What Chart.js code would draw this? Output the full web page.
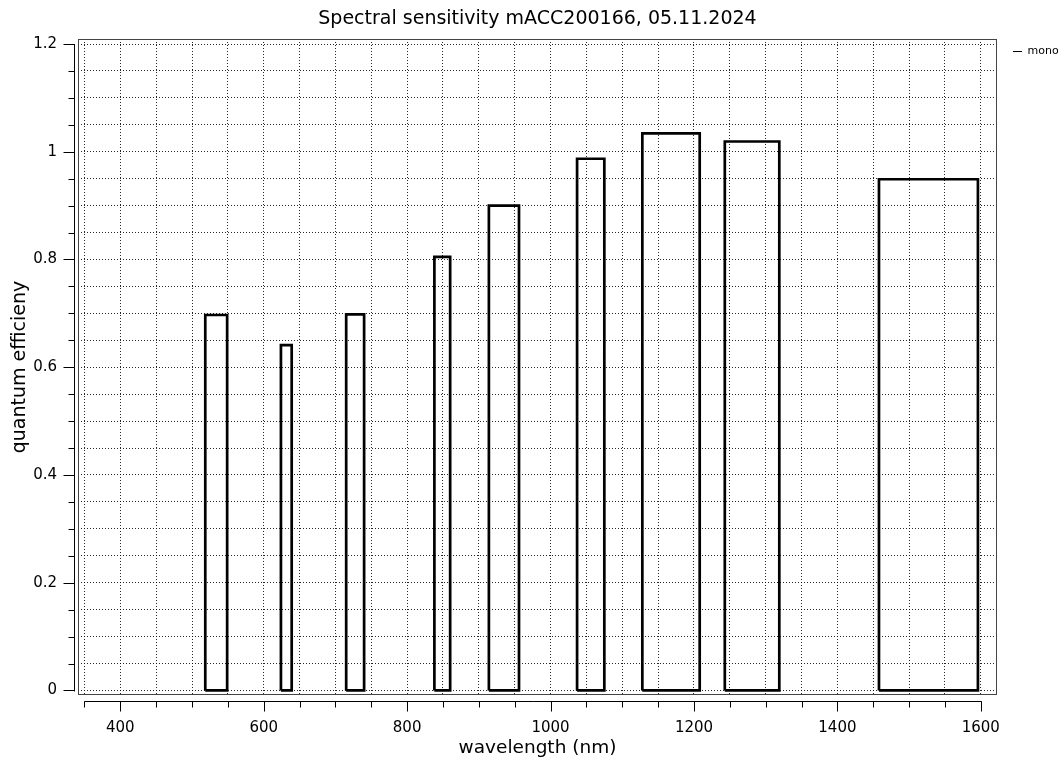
<!DOCTYPE html>
<html>
<head>
<meta charset="utf-8">
<script src="https://cdn.jsdelivr.net/npm/chart.js@4/dist/chart.umd.min.js"></script>
<style>
html,body{margin:0;padding:0;background:#fff;}
#wrap{width:1063px;height:762px;}
</style>
</head>
<body>
<div id="wrap"><canvas id="c" width="1063" height="762"></canvas></div>
<script>
// ---- data ----
const seriesName = 'mono';
const bandStart = [518.5, 624, 715, 838, 914, 1037, 1128, 1243, 1458];
const bandEnd = [549, 639, 740, 860, 956, 1075, 1208, 1319, 1596];
const efficiency = [0.697, 0.641, 0.698, 0.805, 0.900, 0.987, 1.034, 1.019, 0.949];
const xTickLabels = [400, 600, 800, 1000, 1200, 1400, 1600];
const yTickLabels = [0, 0.2, 0.4, 0.6, 0.8, 1, 1.2];
const xMinorStep = 50, xAxisFrom = 350, xAxisTo = 1600;
const yMinorStep = 0.05, yAxisFrom = 0, yAxisTo = 1.2;

const FONT = "'DejaVu Sans', Verdana, sans-serif";

// rectangle outlines built from the band arrays
const points = [];
bandStart.forEach((s, i) => {
  const e = bandEnd[i], h = efficiency[i];
  points.push({x: s, y: 0}, {x: s, y: h}, {x: e, y: h}, {x: e, y: 0}, {x: s, y: 0});
  if (i < bandStart.length - 1) points.push({x: (e + bandStart[i + 1]) / 2, y: null});
});

function stepValues(from, to, step) {
  const out = [];
  const n = Math.round((to - from) / step);
  for (let i = 0; i <= n; i++) out.push(+(from + i * step).toFixed(6));
  return out;
}
const xGrid = stepValues(xAxisFrom, xAxisTo, xMinorStep);
const yGrid = stepValues(yAxisFrom, yAxisTo, yMinorStep);
const isLabel = (arr, v) => arr.some(t => Math.abs(t - v) < 1e-6);

// frame + detached axis lines with ticks (Qwt style)
const framePlugin = {
  id: 'frameAxes',
  beforeLayout(chart) {
    const lg = chart.legend;
    if (lg && !lg._fixedWidth) {
      const f = lg.fit;
      lg.fit = function () { f.call(this); this.width = 57; };
      lg._fixedWidth = true;
    }
  },
  afterDraw(chart) {
    const {ctx, chartArea: a} = chart;
    const xs = chart.scales.x, ys = chart.scales.y;
    ctx.save();
    // frame
    ctx.strokeStyle = '#444';
    ctx.lineWidth = 1;
    ctx.strokeRect(a.left + 0.5, a.top + 0.5, a.right - a.left - 1, a.bottom - a.top - 1);
    ctx.strokeStyle = '#000';
    // x axis
    const yAx = a.bottom + 6.5;
    ctx.beginPath();
    ctx.moveTo(xs.getPixelForValue(xAxisFrom), yAx);
    ctx.lineTo(xs.getPixelForValue(xAxisTo) + 1, yAx);
    xGrid.forEach(v => {
      const p = Math.round(xs.getPixelForValue(v)) + 0.5;
      const len = isLabel(xTickLabels, v) ? 10 : 6;
      ctx.moveTo(p, yAx); ctx.lineTo(p, yAx + len);
    });
    ctx.stroke();
    // y axis
    const xAx = a.left - 3.5;
    ctx.beginPath();
    ctx.moveTo(xAx, ys.getPixelForValue(yAxisTo));
    ctx.lineTo(xAx, ys.getPixelForValue(yAxisFrom) + 1);
    yGrid.forEach(v => {
      const p = Math.round(ys.getPixelForValue(v)) + 0.5;
      const len = isLabel(yTickLabels, v) ? 11 : 6;
      ctx.moveTo(xAx, p); ctx.lineTo(xAx - len, p);
    });
    ctx.stroke();
    ctx.restore();
  }
};

new Chart(document.getElementById('c'), {
  type: 'line',
  data: {
    datasets: [{
      label: seriesName,
      data: points,
      borderColor: '#000',
      backgroundColor: '#000',
      borderWidth: 2.7,
      pointRadius: 0,
      pointHoverRadius: 0,
      spanGaps: false,
      tension: 0,
      borderJoinStyle: 'miter',
      fill: false
    }]
  },
  options: {
    responsive: false,
    animation: false,
    events: [],
    layout: {padding: 0},
    scales: {
      x: {
        type: 'linear',
        min: 341,
        max: 1622.6,
        afterBuildTicks(s) { s.ticks = xGrid.map(v => ({value: v})); },
        afterFit(s) { s.height = 67; },
        grid: {drawTicks: false, color: 'rgba(0,0,0,0.85)', lineWidth: 1},
        border: {display: false, dash: [1, 2]},
        ticks: {
          autoSkip: false, maxRotation: 0, padding: 24,
          color: '#000', font: {family: FONT, size: 15},
          callback: v => isLabel(xTickLabels, v) ? String(v) : ''
        },
        title: {display: true, text: 'wavelength (nm)', color: '#000',
          font: {family: FONT, size: 18.5}, padding: {top: 0, bottom: 3}}
      },
      y: {
        type: 'linear',
        min: -0.0084,
        max: 1.2093,
        afterBuildTicks(s) { s.ticks = yGrid.map(v => ({value: v})); },
        afterFit(s) { s.width = 78; },
        grid: {drawTicks: false, color: 'rgba(0,0,0,0.85)', lineWidth: 1},
        border: {display: false, dash: [1, 2]},
        ticks: {
          autoSkip: false, padding: 21,
          color: '#000', font: {family: FONT, size: 15},
          callback: v => isLabel(yTickLabels, v) ? String(+v.toFixed(2)) : ''
        },
        title: {display: true, text: 'quantum efficieny', color: '#000',
          font: {family: FONT, size: 19}, padding: {top: 9, bottom: 0}}
      },
      gap: {
        type: 'linear', position: 'right', display: true,
        afterFit(s) { s.width = 9; },
        grid: {display: false, drawOnChartArea: false},
        border: {display: false},
        ticks: {display: false}
      }
    },
    plugins: {
      title: {
        display: true, fullSize: false,
        text: 'Spectral sensitivity mACC200166, 05.11.2024',
        color: '#000', font: {family: FONT, size: 19, weight: 'normal'},
        padding: {top: 8.1, bottom: 8.1}
      },
      legend: {
        display: true, position: 'right', align: 'start', fullSize: false,
        labels: {
          usePointStyle: true, pointStyle: 'line', pointStyleWidth: 9,
          boxHeight: 9, padding: 7, color: '#000',
          font: {family: FONT, size: 11},
          generateLabels(chart) {
            const items = Chart.defaults.plugins.legend.labels.generateLabels(chart);
            items.forEach(it => { it.lineWidth = 1; });
            return items;
          }
        }
      },
      tooltip: {enabled: false}
    }
  },
  plugins: [framePlugin]
});
</script>
</body>
</html>
